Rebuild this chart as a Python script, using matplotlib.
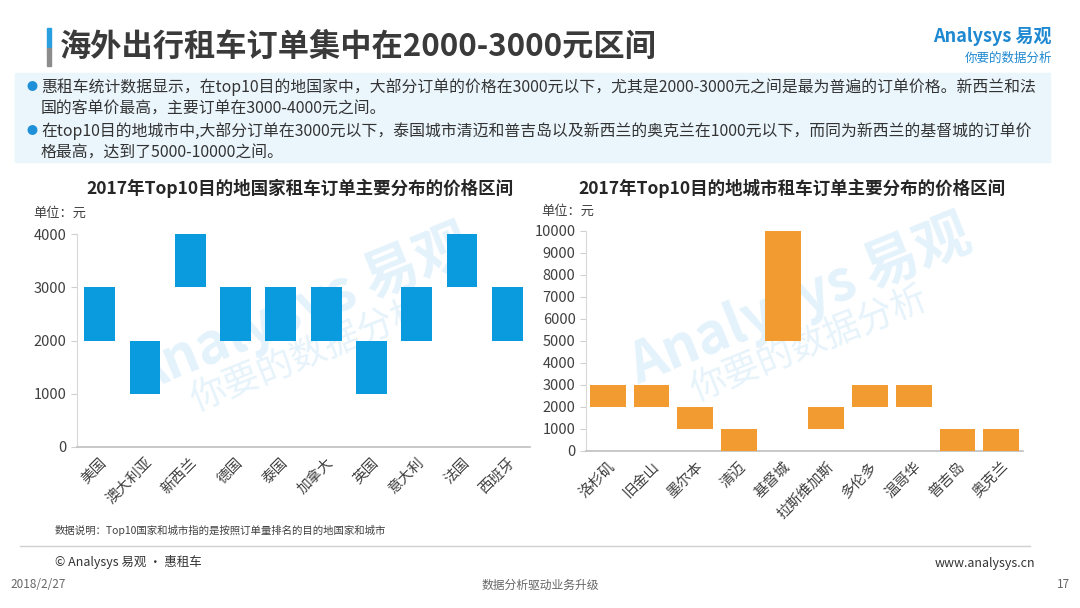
import matplotlib
matplotlib.use("Agg")
import matplotlib.pyplot as plt
from matplotlib.patches import Rectangle

plt.rcParams["font.family"] = ["Noto Sans CJK SC", "DejaVu Sans"]

# data
countries = ["美国", "澳大利亚", "新西兰", "德国", "泰国", "加拿大", "英国", "意大利", "法国", "西班牙"]
country_low = [2000, 1000, 3000, 2000, 2000, 2000, 1000, 2000, 3000, 2000]
country_high = [3000, 2000, 4000, 3000, 3000, 3000, 2000, 3000, 4000, 3000]

cities = ["洛杉矶", "旧金山", "墨尔本", "清迈", "基督城", "拉斯维加斯", "多伦多", "温哥华", "普吉岛", "奥克兰"]
city_low = [2000, 2000, 1000, 0, 5000, 1000, 2000, 2000, 0, 0]
city_high = [3000, 3000, 2000, 1000, 10000, 2000, 3000, 3000, 1000, 1000]

country_ticks = [0, 1000, 2000, 3000, 4000]
city_ticks = list(range(0, 10001, 1000))

BLUE = "#0A9BDF"
ORANGE = "#F29B30"
TEXT = "#404040"

W, H = 1080, 608
fig = plt.figure(figsize=(W / 100, H / 100), dpi=100)


def fx(px):
    return px / W


def fy(py):
    return 1 - py / H


# header
fig.patches.append(Rectangle((fx(47), fy(48)), fx(4), 20 / H, color="#2A9FE0",
                             transform=fig.transFigure))
fig.patches.append(Rectangle((fx(47), fy(66)), fx(4), 18 / H, color="#8C8C8C",
                             transform=fig.transFigure))
fig.text(fx(60), fy(47), "海外出行租车订单集中在2000-3000元区间", fontsize=22.5,
         fontweight="bold", color="#3A3A3A", va="center", ha="left")

fig.text(fx(1052), fy(37), "Analysys 易观", fontsize=13, color="#1E88D0",
         ha="right", va="center", fontweight="bold")
fig.text(fx(1052), fy(58), "你要的数据分析", fontsize=9, color="#1E88D0",
         ha="right", va="center", style="italic")

# summary box
fig.patches.append(Rectangle((fx(15), fy(162)), fx(1035), 89 / H, color="#EAF5FC",
                             transform=fig.transFigure, zorder=0))
lines = [
    (87, True, "惠租车统计数据显示，在top10目的地国家中，大部分订单的价格在3000元以下，尤其是2000-3000元之间是最为普遍的订单价格。新西兰和法"),
    (108, False, "国的客单价最高，主要订单在3000-4000元之间。"),
    (131, True, "在top10目的地城市中,大部分订单在3000元以下，泰国城市清迈和普吉岛以及新西兰的奥克兰在1000元以下，而同为新西兰的基督城的订单价"),
    (152, False, "格最高，达到了5000-10000之间。"),
]
for y, bullet, s in lines:
    if bullet:
        fig.text(fx(32), fy(y), "●", fontsize=8, color="#1E90D8", ha="center", va="center")
    fig.text(fx(41), fy(y), s, fontsize=11.4, color="#333333", ha="left", va="center")


def draw_range(ax, labels, low, high, color, width, ticks, title, unit_x, unit_y, title_x):
    x = range(len(labels))
    heights = [h - l for l, h in zip(low, high)]
    ax.bar(x, heights, bottom=low, width=width, color=color, zorder=3)
    ax.set_xlim(-0.5, len(labels) - 0.5)
    ax.set_ylim(ticks[0], ticks[-1])
    ax.set_yticks(ticks)
    ax.set_xticks(list(x))
    ax.set_xticklabels(labels, rotation=45, ha="right", rotation_mode="anchor",
                       fontsize=10.5, color=TEXT)
    ax.tick_params(axis="y", labelsize=10.5, colors=TEXT, length=4, color="#D0D0D0")
    ax.tick_params(axis="x", length=0, pad=6)
    for side in ("top", "right"):
        ax.spines[side].set_visible(False)
    ax.spines["left"].set_color("#D9D9D9")
    ax.spines["bottom"].set_color("#BFBFBF")
    ax.spines["bottom"].set_linewidth(1.2)
    fig.text(fx(title_x), fy(188), title, fontsize=12.6, fontweight="bold",
             color="#262626", ha="center", va="center")
    fig.text(fx(unit_x), fy(unit_y), "单位：元", fontsize=9.5, color=TEXT,
             ha="left", va="center")


ax1 = fig.add_axes([fx(77), fy(447), fx(453), 213 / H])
draw_range(ax1, countries, country_low, country_high, BLUE, 0.68, country_ticks,
           "2017年Top10目的地国家租车订单主要分布的价格区间", 33, 213, 300)

ax2 = fig.add_axes([fx(586), fy(451), fx(437), 220 / H])
draw_range(ax2, cities, city_low, city_high, ORANGE, 0.82, city_ticks,
           "2017年Top10目的地城市租车订单主要分布的价格区间", 541, 211, 792)

# faint watermarks, kept behind the bars
for ax, (cx, cy) in ((ax1, (300, 330)), (ax2, (800, 320))):
    ax.text(fx(cx), fy(cy - 20), "Analysys 易观", fontsize=40, color="#E3F2FB",
            rotation=22, ha="center", va="center", fontweight="bold", zorder=1,
            transform=fig.transFigure, clip_on=False)
    ax.text(fx(cx + 10), fy(cy + 25), "你要的数据分析", fontsize=26, color="#E6F3FB",
            rotation=22, ha="center", va="center", zorder=1,
            transform=fig.transFigure, clip_on=False)

# footer
fig.text(fx(55), fy(530), "数据说明：Top10国家和城市指的是按照订单量排名的目的地国家和城市",
         fontsize=7.5, color="#404040", ha="left", va="center")
fig.add_artist(plt.Line2D([fx(20), fx(1030)], [fy(546), fy(546)], color="#D0D0D0",
                          linewidth=1, transform=fig.transFigure))
fig.text(fx(55), fy(562), "© Analysys 易观 · 惠租车", fontsize=9, color="#333333",
         ha="left", va="center")
fig.text(fx(1035), fy(563), "www.analysys.cn", fontsize=9, color="#333333",
         ha="right", va="center")
fig.text(fx(10), fy(585), "2018/2/27", fontsize=8.5, color="#666666", ha="left", va="center")
fig.text(fx(540), fy(585), "数据分析驱动业务升级", fontsize=8.5, color="#666666",
         ha="center", va="center")
fig.text(fx(1070), fy(585), "17", fontsize=8.5, color="#666666", ha="right", va="center")

fig.savefig("out.png", dpi=100)
